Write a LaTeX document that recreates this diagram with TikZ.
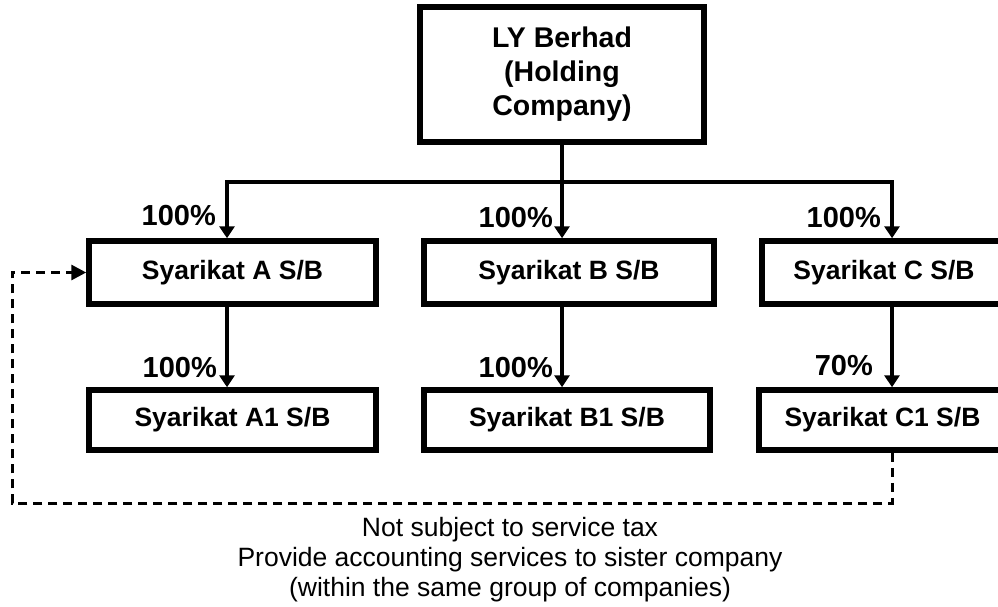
\documentclass[tikz,border=0pt]{standalone}
\usepackage{fontspec}
\setmainfont{Liberation Sans}
\usetikzlibrary{arrows.meta,calc}
\tikzset{
  box/.style={draw=black, line width=5.5pt, inner sep=0pt, align=center,
    font=\fontsize{26.5}{33}\selectfont\bfseries},
  topbox/.style={box, font=\fontsize{28.5}{34}\selectfont\bfseries},
  conn/.style={draw=black, line width=4pt, line join=miter},
  arr/.style={conn, -{Triangle[width=15pt,length=12pt]}},
  dasharr/.style={draw=black, line width=3pt, dash pattern=on 9pt off 6pt,
    -{Triangle[width=15pt,length=15pt]}},
  pct/.style={inner sep=0pt, anchor=base east, font=\fontsize{29}{33}\selectfont\bfseries},
  note/.style={inner sep=0pt, align=center, font=\fontsize{26.5}{30}\selectfont}
}
\begin{document}
\begin{tikzpicture}[x=1pt,y=-1pt]
\useasboundingbox (0,0) rectangle (998,607);
\clip (0,0) rectangle (998,607);
\fill[white] (0,0) rectangle (998,607);

\node[topbox, minimum width=284pt, minimum height=135pt] (top) at (562,74.5) {LY Berhad\\(Holding\\Company)};

\node[box, minimum width=287pt, minimum height=63pt] (A) at (232.5,272.5) {Syarikat A S/B};
\node[box, minimum width=290pt, minimum height=63pt] (B) at (569,272.5) {Syarikat B S/B};
\node[box, minimum width=244pt, minimum height=63pt] (C) at (884,272.5) {Syarikat C S/B};

\node[box, minimum width=287pt, minimum height=60pt] (A1) at (232.5,420) {Syarikat A1 S/B};
\node[box, minimum width=286pt, minimum height=60pt] (B1) at (567,420) {Syarikat B1 S/B};
\node[box, minimum width=247pt, minimum height=60pt] (C1) at (882.5,420) {Syarikat C1 S/B};

\coordinate (hl) at (227,182);
\coordinate (hr) at (892,182);
\coordinate (dl) at (12,503);

% level 1
\draw[conn, {Triangle[width=15pt,length=12pt]}-{Triangle[width=15pt,length=12pt]}]
  (hl |- A.north) -- (hl) -- (hr) -- (hr |- C.north);
\draw[arr] (top.south) -- (top.south |- B.north);

% level 2
\draw[arr] (hl |- A.south) -- (hl |- A1.north);
\draw[arr] (top.south |- B.south) -- (top.south |- B1.north);
\draw[arr] (hr |- C.south) -- (hr |- C1.north);

% dashed link
\draw[dasharr] (hr |- C1.south) -- (hr |- dl) -- (dl) -- (dl |- A.west) -- (A.west);

% percentages
\node[pct] (pA) at (216,225) {100\%};
\node[pct] (pB) at (553,227) {100\%};
\node[pct] (pC) at (881,227) {100\%};
\node[pct] (pA1) at (217,377) {100\%};
\node[pct] (pB1) at (553,377) {100\%};
\node[pct] (pC1) at (873,375) {70\%};

% note
\node[note, anchor=north] (nt) at (510,517.5) {Not subject to service tax\\Provide accounting services to sister company\\(within the same group of companies)};
\end{tikzpicture}
\end{document}
